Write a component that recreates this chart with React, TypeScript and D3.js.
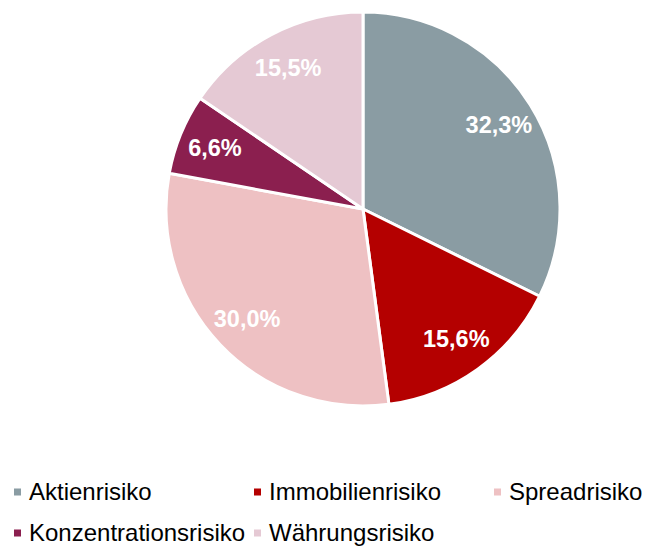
import React from "react";
import * as d3 from "d3";

const categories = ["Aktienrisiko", "Immobilienrisiko", "Spreadrisiko", "Konzentrationsrisiko", "Währungsrisiko"];
const values = [32.3, 15.6, 30.0, 6.6, 15.5];
const colors = ["#8A9CA3", "#B40000", "#EEC1C3", "#8B1F4F", "#E5C9D4"];

const W = 645;
const H = 546;
const CX = 363;
const CY = 209;
const R = 197;
const LABEL_R = 160;

const fmt = (v: number) => v.toFixed(1).replace(".", ",") + "%";

const App: React.FC = () => {
  const data = categories.map((c, i) => ({ name: c, value: values[i], color: colors[i] }));
  const pie = d3.pie<{ name: string; value: number; color: string }>()
    .value((d) => d.value)
    .sort(null);
  const arcs = pie(data);
  const arc = d3.arc<d3.PieArcDatum<any>>().innerRadius(0).outerRadius(R);
  const labelArc = d3.arc<d3.PieArcDatum<any>>().innerRadius(LABEL_R).outerRadius(LABEL_R);

  // legend grid: 3 columns, 240px apart
  const colX = (i: number) => 14 + (i % 3) * 240;
  const rowY = (i: number) => 492 + Math.floor(i / 3) * 41;

  return (
    <svg width={W} height={H} style={{ position: "absolute", left: 0, top: 0, fontFamily: "'Liberation Sans', Arial, sans-serif" }}>
      <rect width={W} height={H} fill="#fff" />
      <g transform={`translate(${CX},${CY})`}>
        {arcs.map((a, i) => (
          <path key={i} d={arc(a) || ""} fill={a.data.color} stroke="#fff" strokeWidth={3} strokeLinejoin="round" />
        ))}
        {arcs.map((a, i) => {
          const [x, y] = labelArc.centroid(a);
          return (
            <text key={i} x={x} y={y} dy="0.35em" textAnchor="middle" fill="#fff" fontWeight="bold" fontSize={23.5}>
              {fmt(a.data.value)}
            </text>
          );
        })}
      </g>
      <g>
        {data.map((d, i) => (
          <g key={i} transform={`translate(${colX(i)},${rowY(i)})`}>
            <rect x={0} y={-3.5} width={7} height={7} fill={d.color} />
            <text x={15} y={0} dy="0.35em" fontSize={24} fill="#000">{d.name}</text>
          </g>
        ))}
      </g>
    </svg>
  );
};

export default App;
